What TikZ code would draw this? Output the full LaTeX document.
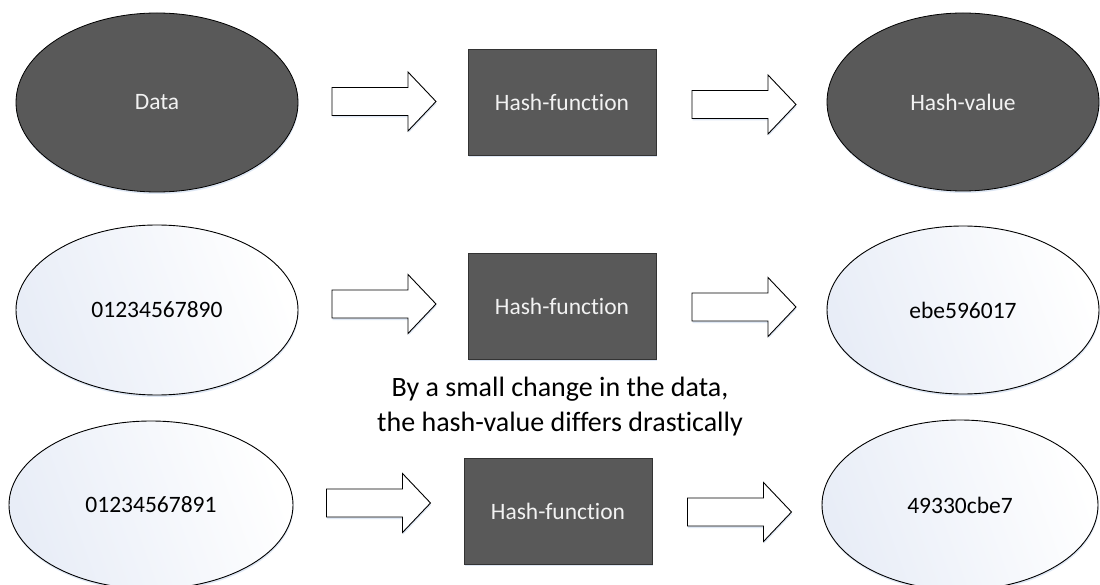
\documentclass[tikz,border=0pt]{standalone}
\usepackage{fontspec}
\setmainfont{Carlito}[Ligatures={NoCommon,NoContextual,NoDiscretionary,NoRequired}]
\usetikzlibrary{shapes.geometric,shadows}

\definecolor{darkfill}{RGB}{89,89,89}
\definecolor{lighttext}{RGB}{242,242,242}
\definecolor{paleblue}{RGB}{232,237,247}
\definecolor{glow}{RGB}{200,216,238}

\tikzset{
  lbl/.style={font=\fontsize{23.5}{28}\selectfont},
  softshadow/.style={drop shadow={shadow xshift=0.5pt, shadow yshift=-2pt, fill=glow, opacity=0.6}},
  darkell/.style={ellipse, draw=black, line width=0.8pt, fill=darkfill,
    text=lighttext, lbl, inner sep=0pt, softshadow},
  lightell/.style={ellipse, draw=black, line width=0.9pt,
    left color=paleblue, right color=white, shading angle=110,
    text=black, lbl, inner sep=0pt, softshadow},
  hashbox/.style={rectangle, draw=black!80, line width=0.8pt, fill=darkfill,
    text=lighttext, lbl, minimum width=188pt, minimum height=106pt, softshadow},
  blockstyle/.style={draw=black, line width=0.9pt, fill=white, softshadow},
  pics/blockarrow/.style={code={
    \draw[blockstyle] (-52,-14) -- (24,-14) -- (24,-29.5) -- (52,0)
      -- (24,29.5) -- (24,14) -- (-52,14) -- cycle;
  }},
}

\begin{document}
\begin{tikzpicture}[x=1pt,y=-1pt]
  \clip (0,0) rectangle (1100,585);
  \fill[white] (0,0) rectangle (1100,585);

  % general scheme
  \node[darkell, minimum width=282pt, minimum height=179pt] (data) at (157,102.5) {Data};
  \node[hashbox] (hf1) at (562,102) {Hash-function};
  \node[darkell, minimum width=272pt, minimum height=178pt] (hv) at (963,102) {Hash-value};
  \pic at (384,101.5) {blockarrow};
  \pic at (744,104.5) {blockarrow};

  % first input
  \node[lightell, minimum width=282pt, minimum height=170pt] (in2) at (157,310) {01234567890};
  \node[hashbox] (hf2) at (562,306) {Hash-function};
  \node[lightell, minimum width=272pt, minimum height=168pt] (out2) at (963,310) {ebe596017};
  \pic at (384,304) {blockarrow};
  \pic at (744,307) {blockarrow};

  % note between the two examples
  \node[align=center, font=\fontsize{28}{35}\selectfont, inner sep=0pt] (note) at (560,407)
    {By a small change in the data,\\the hash-value differs drastically};

  % second input, one digit changed
  \node[lightell, minimum width=284pt, minimum height=168pt] (in3) at (151,505) {01234567891};
  \node[hashbox] (hf3) at (558,511) {Hash-function};
  \node[lightell, minimum width=276pt, minimum height=170pt] (out3) at (960,505) {49330cbe7};
  \pic at (378.5,503) {blockarrow};
  \pic at (739.5,512) {blockarrow};
\end{tikzpicture}
\end{document}
